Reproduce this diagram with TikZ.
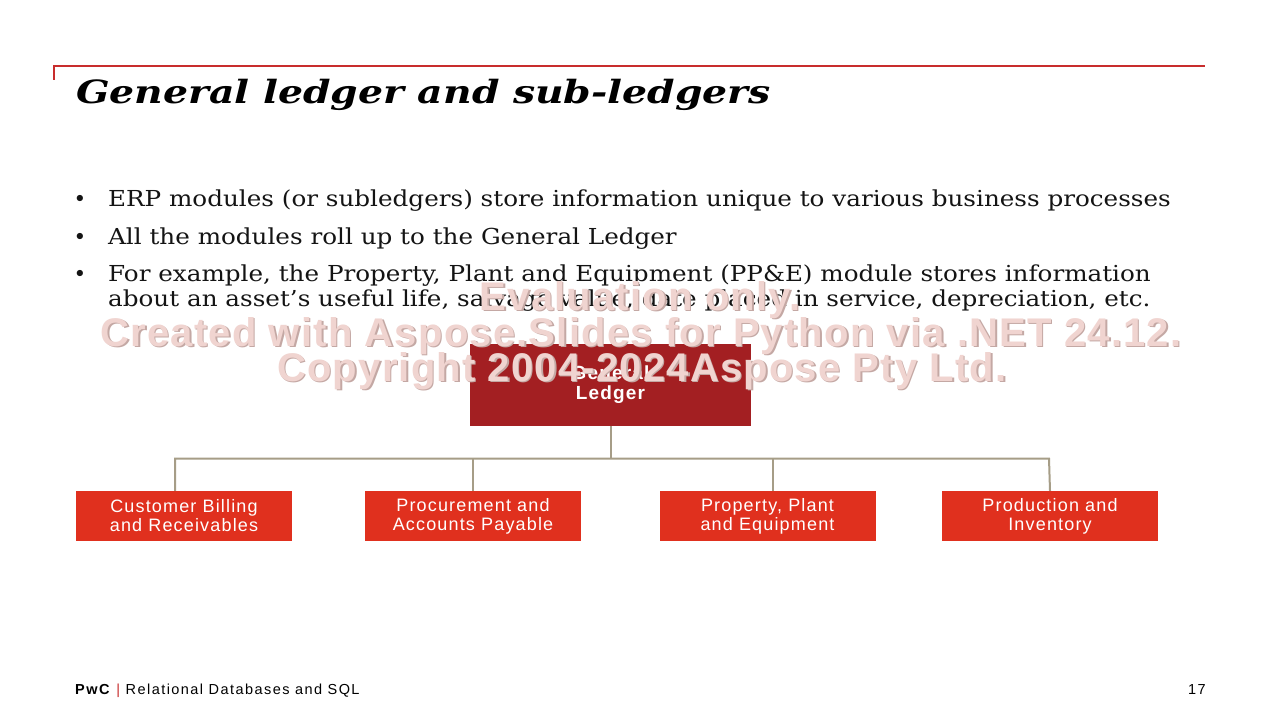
\documentclass[tikz,border=0pt]{standalone}
\usepackage{fontspec}
\setmainfont{DejaVu Serif}
\newfontfamily\bodyfont[FakeStretch=1.12]{DejaVu Serif}
\newfontfamily\titlefont[FakeStretch=1.23]{DejaVu Serif}
\newfontfamily\arial{Liberation Sans}
\newfontfamily\arialsp[LetterSpace=6.5]{Liberation Sans}
\newfontfamily\arialglsp[LetterSpace=6]{Liberation Sans}
\newfontfamily\arialft[LetterSpace=10]{Liberation Sans}
\newfontfamily\arialwm[LetterSpace=3]{Liberation Sans}
\definecolor{pwcred}{RGB}{224,48,30}
\definecolor{gldark}{RGB}{163,31,34}
\definecolor{rulered}{RGB}{200,45,45}
\definecolor{conncol}{RGB}{166,157,135}
\definecolor{wmfill}{RGB}{240,212,208}
\definecolor{wmshadow}{RGB}{196,168,164}
\definecolor{bodytext}{RGB}{20,20,20}
\tikzset{
  subbox/.style={rectangle, fill=pwcred, text=white, minimum width=216pt, minimum height=50pt,
    inner sep=0pt, align=center, font=\arialsp\fontsize{18}{19}\selectfont},
  glbox/.style={rectangle, fill=gldark, text=white, minimum width=281pt, minimum height=82pt,
    inner sep=0pt, align=center, font=\arialglsp\bfseries\fontsize{19}{20}\selectfont},
  conn/.style={draw=conncol, line width=2pt},
  bodyline/.style={anchor=base west, inner sep=0pt, text=bodytext, font=\bodyfont\fontsize{22}{25}\selectfont},
  bulletmark/.style={anchor=base, inner sep=0pt, text=bodytext, font=\fontsize{21.5}{25}\selectfont},
  wm/.style={anchor=base, inner sep=0pt, font=\arialwm\bfseries\fontsize{40}{44}\selectfont}
}
\begin{document}
\begin{tikzpicture}[x=1pt,y=-1pt]
\useasboundingbox (0,0) rectangle (1280,720);
\fill[white] (0,0) rectangle (1280,720);

% top rule
\fill[rulered] (53,64.5) rectangle (1205,66.5);
\fill[rulered] (53,64.5) rectangle (55,80);

% title
\node[anchor=base west, inner sep=0pt, font=\titlefont\bfseries\itshape\fontsize{32}{36}\selectfont] (title) at (76,103) {General ledger and sub-ledgers};

% bullets
\node[bulletmark] (b1) at (80,206) {•};
\node[bodyline] (t1) at (108,206) {ERP modules (or subledgers) store information unique to various business processes};
\node[bulletmark] (b2) at (80,244) {•};
\node[bodyline] (t2) at (108,244) {All the modules roll up to the General Ledger};
\node[bulletmark] (b3) at (80,281) {•};
\node[bodyline] (t3) at (108,281) {For example, the Property, Plant and Equipment (PP\&E) module stores information};
\node[bodyline] (t4) at (108,306) {about an asset’s useful life, salvage value, date placed in service, depreciation, etc.};

% general ledger
\node[glbox] (gl) at (610.5,385) {General\\Ledger};

% sub-ledgers
\node[subbox] (c1) at (184,516) {Customer Billing\\and Receivables};
\node[subbox] (c2) at (473,516) {Procurement and\\Accounts Payable};
\node[subbox] (c3) at (767.5,516) {Property, Plant\\and Equipment};
\node[subbox] (c4) at (1050,516) {Production and\\Inventory};

% connectors
\coordinate (busL) at (175,458.5);
\coordinate (busR) at (1049,458.5);
\draw[conn] (gl.south) -- (gl.south |- busL);
\draw[conn] ([xshift=-9pt]c1.north) -- (busL) -- (busR) -- (c4.north);
\draw[conn] (c2.north) -- (c2.north |- busL);
\draw[conn] ([xshift=5pt]c3.north) -- ([xshift=5pt]c3.north |- busL);

% footer
\node[anchor=base west, inner sep=0pt, font=\arialft\fontsize{14.5}{16}\selectfont] (foot) at (75,694)
  {\textbf{PwC} \textcolor{rulered}{|} Relational Databases and SQL};
\node[anchor=base east, inner sep=0pt, font=\arialft\fontsize{14.5}{16}\selectfont] (page) at (1206,694) {17};

% watermark
\foreach \dx/\col in {1.5/wmshadow, 0/wmfill}{
  \node[wm, text=\col] (wm1) at (640+\dx,310+\dx) {Evaluation only.};
  \node[wm, text=\col] (wm2) at (641+\dx,346+\dx) {Created with Aspose.Slides for Python via .NET 24.12.};
  \node[wm, text=\col] (wm3) at (642+\dx,381+\dx) {Copyright 2004-2024Aspose Pty Ltd.};
}
\end{tikzpicture}
\end{document}
